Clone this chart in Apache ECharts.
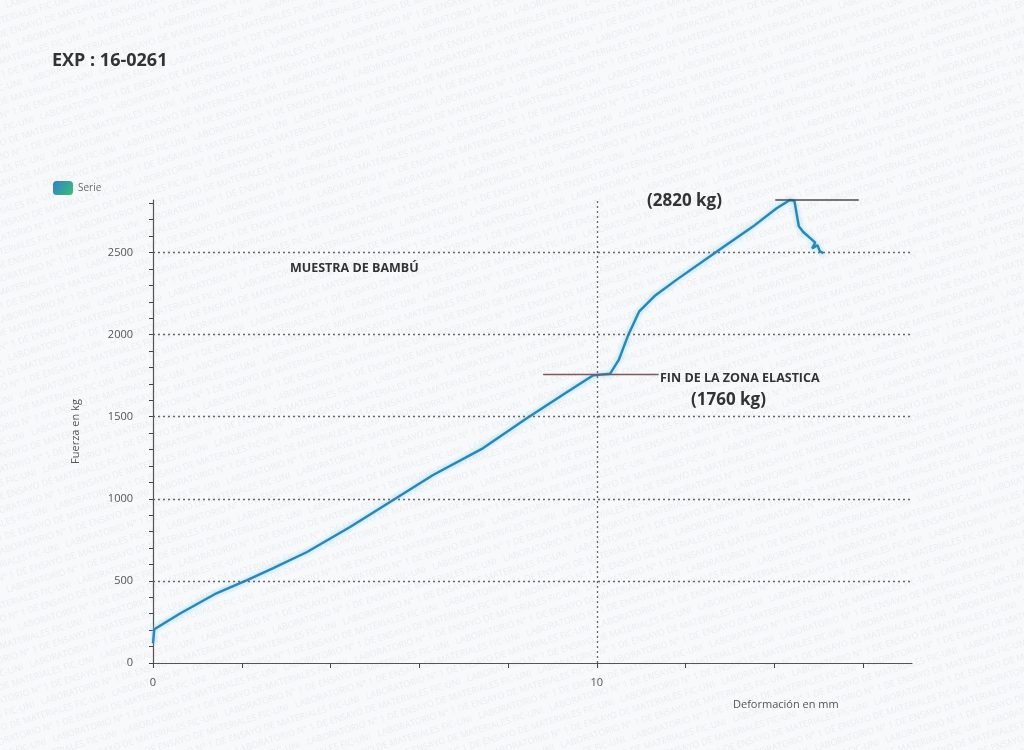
<!DOCTYPE html>
<html>
<head>
<meta charset="utf-8">
<title>EXP : 16-0261</title>
<script src="https://cdn.jsdelivr.net/npm/echarts@6/dist/echarts.min.js"></script>
<style>
  html, body { margin: 0; padding: 0; background: #f8f9fb; }
  #chart { width: 1024px; height: 750px; }
</style>
</head>
<body>
<div id="chart"></div>
<script>
// Ensayo de compresión – muestra de bambú
const deformacionMm = [0, 0.03, 0.6, 1.44, 2.12, 2.71, 3.47, 4.44, 5.34, 6.31, 7.44, 8.43, 9.33, 9.92, 10.3, 10.5, 10.71, 10.95, 11.3, 11.8, 12.72, 13.5, 14.05, 14.35, 14.45, 14.55, 14.65, 14.82, 14.92, 14.85, 14.97, 15.02, 15.1];
const fuerzaKg     = [120, 205, 300, 426, 505, 578, 676, 828, 980, 1145, 1309, 1492, 1650, 1752, 1762, 1850, 2000, 2140, 2235, 2335, 2510, 2655, 2770, 2820, 2815, 2660, 2625, 2585, 2560, 2525, 2545, 2510, 2495];

const cargaMaxima = 2820;      // kg
const limiteElastico = 1760;   // kg

const yTicks = [0, 100, 200, 300, 400, 500, 600, 700, 800, 900, 1000, 1100, 1200, 1300, 1400, 1500, 1600, 1700, 1800, 1900, 2000, 2100, 2200, 2300, 2400, 2500, 2600, 2700, 2800];
const yLabels = [0, 500, 1000, 1500, 2000, 2500];
const yGrid = [500, 1000, 1500, 2000, 2500];
const xTicks = [0, 2, 4, 6, 8, 10, 12, 14, 16];
const xLabels = [0, 10];
const xGrid = [10];

const font = '"Open Sans", "Liberation Sans", sans-serif';

// faint laboratory watermark repeated across the whole sheet
const marca = 'LABORATORIO N° 1 DE ENSAYO DE MATERIALES FIC-UNI   ';
const filas = [];
for (let i = -48; i < 48; i++) {
  filas.push({
    type: 'text',
    x: -1100 + ((i + 48) % 3) * 70,
    y: i * 13,
    style: {
      text: marca.repeat(10),
      font: '9px ' + font,
      fill: 'rgba(120,125,135,0.11)'
    }
  });
}

const chart = echarts.init(document.getElementById('chart'));

chart.setOption({
  backgroundColor: '#f8f9fb',
  animation: false,
  grid: { left: 153, right: 112, top: 200, bottom: 87 },
  legend: {
    left: 48, top: 176,
    itemWidth: 20, itemHeight: 14,
    icon: 'roundRect',
    textStyle: { color: '#6a6a6a', fontSize: 10, fontFamily: font },
    data: [{
      name: 'Serie',
      itemStyle: {
        color: new echarts.graphic.LinearGradient(0, 0, 1, 1, [
          { offset: 0, color: '#2f7fd0' },
          { offset: 1, color: '#3cc070' }
        ])
      }
    }]
  },
  xAxis: {
    type: 'value',
    min: 0, max: 17.1,
    axisLine: { lineStyle: { color: '#555', width: 1.2 } },
    axisTick: { show: true, customValues: xTicks, length: 5, lineStyle: { color: '#444' } },
    axisLabel: { customValues: xLabels, color: '#555', fontSize: 11, fontFamily: font, margin: 14 },
    splitLine: { show: false }
  },
  yAxis: {
    type: 'value',
    min: 0, max: 2820,
    name: 'Fuerza en kg',
    nameLocation: 'middle',
    nameGap: 72,
    nameRotate: 90,
    nameTextStyle: { color: '#555', fontSize: 11, fontFamily: font },
    axisLine: { show: true, lineStyle: { color: '#555', width: 1.2 } },
    axisTick: { show: true, customValues: yTicks, length: 4, lineStyle: { color: '#444' } },
    axisLabel: {
      customValues: yLabels, color: '#555', fontSize: 11, fontFamily: font, margin: 20,
      formatter: v => String(v)
    },
    splitLine: { show: false }
  },
  graphic: [
    {
      type: 'group', x: 512, y: 375, rotation: 0.3, silent: true, z: -10,
      children: filas
    },
    {
      type: 'text', left: 52, top: 52, silent: true,
      style: { text: 'EXP : 16-0261', font: 'bold 18px ' + font, fill: '#333' }
    },
    {
      type: 'text', left: 290, top: 262, silent: true,
      style: { text: 'MUESTRA DE BAMBÚ', font: 'bold 12.5px ' + font, fill: '#333' }
    },
    {
      type: 'text', left: 647, top: 193, silent: true,
      style: { text: '(2820 kg)', font: 'bold 17px ' + font, fill: '#333' }
    },
    {
      type: 'text', left: 660, top: 372, silent: true,
      style: { text: 'FIN DE LA ZONA ELASTICA', font: 'bold 12.5px ' + font, fill: '#333' }
    },
    {
      type: 'text', left: 691, top: 392, silent: true,
      style: { text: '(1760 kg)', font: 'bold 17px ' + font, fill: '#333' }
    },
    {
      type: 'text', left: 733, top: 699, silent: true,
      style: { text: 'Deformación en mm', font: '11px ' + font, fill: '#555' }
    }
  ],
  series: [
    {
      name: 'Serie',
      type: 'line',
      showSymbol: false,
      symbol: 'none',
      clip: false,
      data: deformacionMm.map((x, i) => [x, fuerzaKg[i]]),
      lineStyle: {
        color: '#2c86b4', width: 2.4,
        shadowColor: 'rgba(120,215,245,0.95)', shadowBlur: 4
      },
      markLine: {
        silent: true, symbol: 'none', label: { show: false },
        lineStyle: { color: '#666', type: [2, 3], width: 1.3 },
        data: yGrid.map(v => ({ yAxis: v })).concat(xGrid.map(v => ({ xAxis: v })))
      },
      z: 3
    },
    {
      name: 'Referencias',
      type: 'line',
      data: [],
      markLine: {
        silent: true, symbol: 'none', label: { show: false },
        data: [
          [{ coord: [14.02, cargaMaxima], lineStyle: { color: '#4a4a4a', width: 1.6, type: 'solid' } },
           { coord: [15.9, cargaMaxima] }],
          [{ coord: [8.79, limiteElastico], lineStyle: { color: '#7a5a5a', width: 1.4, type: 'solid' } },
           { coord: [11.39, limiteElastico] }]
        ]
      },
      z: 2
    }
  ]
});
</script>
</body>
</html>
